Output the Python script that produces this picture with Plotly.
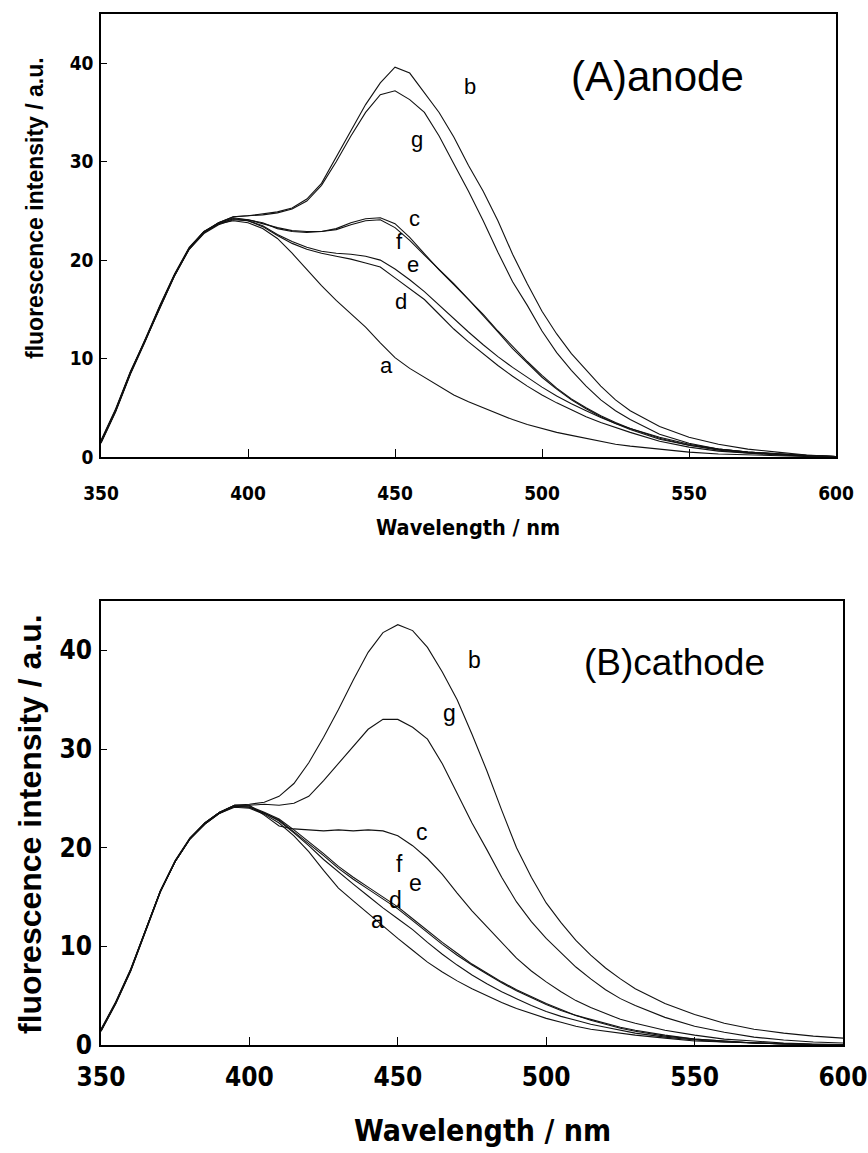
import plotly.graph_objects as go

W, H = 868, 1153

wavelength = [350, 355, 360, 365, 370, 375, 380, 385, 390, 395, 400,
              405, 410, 415, 420, 425, 430, 435, 440, 445, 450, 455, 460, 465, 470,
              475, 480, 485, 490, 495, 500, 505, 510, 515, 520, 525, 530,
              540, 550, 560, 570, 580, 590, 600]

# ---- Panel A (anode) ----
a_A = [1.5, 4.7, 8.5, 11.9, 15.4, 18.6, 21.3, 22.9, 23.7, 24.0, 23.8,
       23.2, 22.2, 20.7, 19.0, 17.4, 15.9, 14.5, 13.2, 11.6, 10.1, 9.0, 8.1, 7.2, 6.3,
       5.6, 5.0, 4.4, 3.8, 3.3, 2.9, 2.5, 2.2, 1.9, 1.6, 1.3, 1.1,
       0.8, 0.5, 0.3, 0.2, 0.1, 0.05, 0.0]
b_A = [1.6, 4.8, 8.6, 11.8, 15.3, 18.5, 21.2, 22.9, 23.8, 24.4, 24.5,
       24.7, 24.9, 25.3, 26.2, 27.8, 30.5, 33.2, 35.8, 38.0, 39.6, 39.0, 37.0, 35.0, 32.5,
       29.6, 27.0, 24.0, 20.6, 17.6, 14.8, 12.5, 10.5, 8.8, 7.2, 5.8, 4.7,
       3.1, 2.0, 1.3, 0.8, 0.5, 0.2, 0.05]
c_A = [1.6, 4.8, 8.6, 11.8, 15.3, 18.5, 21.2, 22.9, 23.8, 24.3, 24.1,
       23.7, 23.3, 23.0, 22.9, 22.9, 23.2, 23.8, 24.2, 24.3, 23.7, 22.3, 20.6, 19.0, 17.5,
       16.0, 14.5, 12.8, 11.2, 9.7, 8.3, 7.0, 5.9, 5.0, 4.2, 3.5, 2.9,
       1.9, 1.2, 0.8, 0.5, 0.3, 0.15, 0.05]
d_A = [1.4, 4.6, 8.4, 11.7, 15.2, 18.4, 21.2, 22.8, 23.7, 24.2, 24.0,
       23.4, 22.5, 21.7, 21.1, 20.7, 20.4, 20.1, 19.7, 19.3, 18.2, 17.1, 16.0, 14.5, 13.0,
       11.7, 10.5, 9.3, 8.2, 7.2, 6.3, 5.5, 4.8, 4.1, 3.5, 3.0, 2.5,
       1.6, 1.0, 0.6, 0.4, 0.2, 0.1, 0.05]
e_A = [1.7, 4.9, 8.7, 11.9, 15.3, 18.5, 21.1, 22.7, 23.6, 24.1, 24.0,
       23.5, 22.6, 21.9, 21.3, 20.9, 20.7, 20.6, 20.4, 20.0, 19.1, 18.0, 16.8, 15.4, 14.0,
       12.7, 11.4, 10.2, 9.1, 8.1, 7.1, 6.2, 5.4, 4.7, 4.0, 3.4, 2.9,
       2.0, 1.3, 0.8, 0.5, 0.3, 0.15, 0.05]
f_A = [1.5, 4.7, 8.5, 11.8, 15.2, 18.4, 21.2, 22.8, 23.7, 24.2, 24.1,
       23.8, 23.2, 22.9, 22.8, 22.9, 23.1, 23.6, 24.0, 24.1, 23.3, 22.0, 20.5, 19.1, 17.6,
       16.0, 14.4, 12.7, 11.0, 9.5, 8.1, 6.9, 5.8, 4.9, 4.1, 3.4, 2.8,
       1.8, 1.2, 0.7, 0.4, 0.25, 0.1, 0.05]
g_A = [1.5, 4.7, 8.5, 11.8, 15.2, 18.4, 21.1, 22.8, 23.8, 24.4, 24.5,
       24.6, 24.8, 25.2, 26.0, 27.6, 30.0, 32.6, 35.0, 36.8, 37.2, 36.3, 35.0, 32.6, 29.8,
       27.0, 24.0, 20.8, 17.8, 15.4, 12.8, 10.6, 8.8, 7.2, 5.8, 4.7, 3.8,
       2.3, 1.4, 0.8, 0.5, 0.3, 0.15, 0.05]

# ---- Panel B (cathode) ----
a_B = [1.4, 4.2, 7.5, 11.4, 15.5, 18.6, 20.9, 22.4, 23.5, 24.1, 24.0,
       23.4, 22.5, 21.2, 19.6, 17.7, 15.9, 14.6, 13.3, 12.0, 10.8, 9.6, 8.4, 7.4, 6.5,
       5.7, 5.0, 4.3, 3.7, 3.2, 2.7, 2.3, 1.9, 1.6, 1.4, 1.2, 1.0,
       0.7, 0.4, 0.3, 0.2, 0.1, 0.05, 0.0]
b_B = [1.5, 4.3, 7.6, 11.5, 15.6, 18.7, 21.0, 22.5, 23.6, 24.3, 24.4,
       24.6, 25.2, 26.5, 28.6, 31.2, 34.0, 37.0, 39.8, 41.8, 42.6, 42.0, 40.3, 37.8, 35.0,
       31.5, 27.8, 23.8, 20.0, 17.0, 14.4, 12.4, 10.6, 9.1, 7.8, 6.7, 5.7,
       4.2, 3.1, 2.2, 1.6, 1.2, 0.9, 0.7]
c_B = [1.5, 4.3, 7.6, 11.5, 15.6, 18.6, 20.9, 22.5, 23.6, 24.3, 24.3,
       23.3, 22.2, 21.9, 21.8, 21.7, 21.8, 21.7, 21.8, 21.7, 21.2, 20.2, 18.9, 17.3, 15.4,
       13.6, 12.0, 10.4, 8.8, 7.5, 6.4, 5.4, 4.5, 3.8, 3.2, 2.6, 2.2,
       1.5, 1.0, 0.6, 0.4, 0.2, 0.1, 0.05]
d_B = [1.5, 4.3, 7.6, 11.5, 15.6, 18.6, 20.9, 22.4, 23.5, 24.2, 24.1,
       23.5, 22.7, 21.5, 20.2, 18.8, 17.5, 16.3, 15.1, 13.9, 12.8, 11.7, 10.4, 9.2, 8.1,
       7.1, 6.2, 5.4, 4.7, 4.0, 3.4, 2.9, 2.5, 2.1, 1.8, 1.5, 1.2,
       0.8, 0.5, 0.3, 0.2, 0.1, 0.05, 0.0]
e_B = [1.6, 4.4, 7.7, 11.6, 15.6, 18.7, 21.0, 22.5, 23.6, 24.2, 24.1,
       23.5, 22.8, 21.6, 20.4, 19.2, 17.9, 16.8, 15.8, 14.8, 13.8, 12.6, 11.4, 10.2, 9.1,
       8.1, 7.2, 6.3, 5.5, 4.8, 4.1, 3.5, 3.0, 2.5, 2.1, 1.7, 1.4,
       0.9, 0.6, 0.4, 0.2, 0.1, 0.05, 0.0]
f_B = [1.5, 4.3, 7.6, 11.5, 15.6, 18.6, 20.9, 22.4, 23.5, 24.2, 24.2,
       23.6, 22.9, 21.8, 20.6, 19.4, 18.1, 17.0, 16.0, 15.0, 14.0, 12.8, 11.6, 10.4, 9.3,
       8.2, 7.3, 6.4, 5.6, 4.9, 4.2, 3.6, 3.0, 2.6, 2.2, 1.8, 1.5,
       1.0, 0.6, 0.4, 0.2, 0.1, 0.05, 0.0]
g_B = [1.4, 4.2, 7.5, 11.4, 15.5, 18.6, 20.9, 22.5, 23.6, 24.3, 24.3,
       24.4, 24.3, 24.5, 25.2, 26.8, 28.5, 30.3, 32.0, 33.0, 33.0, 32.2, 31.0, 28.5, 25.5,
       22.5, 19.8, 17.0, 14.5, 12.5, 10.8, 9.3, 7.9, 6.7, 5.6, 4.7, 4.0,
       2.8, 1.9, 1.3, 0.8, 0.5, 0.3, 0.2]

curve_names = ["a", "b", "c", "d", "e", "f", "g"]
panelA = [a_A, b_A, c_A, d_A, e_A, f_A, g_A]
panelB = [a_B, b_B, c_B, d_B, e_B, f_B, g_B]

# curve label positions (wavelength, intensity)
labelA_x = [447, 475.5, 456.5, 452, 456, 451.5, 457.5]
labelA_y = [9.3, 37.6, 24.2, 15.8, 19.6, 21.9, 32.3]
labelB_x = [443.3, 476, 458, 449.2, 456, 450.5, 467.5]
labelB_y = [12.7, 39.0, 21.6, 14.7, 16.4, 18.3, 33.6]

x_ticks = [350, 400, 450, 500, 550, 600]
y_ticks = [0, 10, 20, 30, 40]

fig = go.Figure()
for name, ys in zip(curve_names, panelA):
    fig.add_trace(go.Scatter(x=wavelength, y=ys, mode="lines", name=name,
                             line=dict(color="#111111", width=1.1),
                             xaxis="x", yaxis="y", showlegend=False))
for name, ys in zip(curve_names, panelB):
    fig.add_trace(go.Scatter(x=wavelength, y=ys, mode="lines", name=name,
                             line=dict(color="#111111", width=1.1),
                             xaxis="x2", yaxis="y2", showlegend=False))

COND = "Liberation Sans Narrow, DejaVu Sans Condensed, Arial Narrow, sans-serif"
ARIAL = "Liberation Sans, Arial, sans-serif"
tickfontA = dict(family=COND, size=19, color="black", weight="bold")
tickfontB = dict(family=COND, size=26, color="black", weight="bold")

def xaxis_cfg(domain, anchor, tf, standoff):
    return dict(domain=domain, anchor=anchor, range=[350, 600], tickvals=x_ticks,
                ticks="inside", ticklen=8, tickcolor="black", showline=True,
                linecolor="black", linewidth=1.5, mirror=True, showgrid=False,
                zeroline=False, tickfont=tf, automargin=False,
                ticklabelstandoff=standoff)

def yaxis_cfg(domain, anchor, tf, standoff):
    return dict(domain=domain, anchor=anchor, range=[0, 45], tickvals=y_ticks,
                ticks="inside", ticklen=6, tickcolor="black", showline=True,
                linecolor="black", linewidth=1.5, mirror=True, showgrid=False,
                zeroline=False, tickfont=tf, automargin=False,
                ticklabelstandoff=standoff)

xa_dom = [101 / W, 836 / W]
xb_dom = [101 / W, 843 / W]
ya_dom = [1 - 457 / H, 1 - 14 / H]
yb_dom = [1 - 1045 / H, 1 - 601 / H]

fig.update_layout(
    width=W, height=H,
    margin=dict(l=0, r=0, t=0, b=0),
    paper_bgcolor="white", plot_bgcolor="white",
    xaxis=xaxis_cfg(xa_dom, "y", tickfontA, 18),
    yaxis=yaxis_cfg(ya_dom, "x", tickfontA, 2),
    xaxis2=xaxis_cfg(xb_dom, "y2", tickfontB, 8),
    yaxis2=yaxis_cfg(yb_dom, "x2", tickfontB, 2),
)

ann = []
labfont = dict(family=ARIAL, size=22, color="black")
for n, lx, ly in zip(curve_names, labelA_x, labelA_y):
    ann.append(dict(x=lx, y=ly, xref="x", yref="y", text=n, showarrow=False,
                    xanchor="center", yanchor="middle", font=labfont))
labfontB = dict(family=ARIAL, size=23, color="black")
for n, lx, ly in zip(curve_names, labelB_x, labelB_y):
    ann.append(dict(x=lx, y=ly, xref="x2", yref="y2", text=n, showarrow=False,
                    xanchor="center", yanchor="middle", font=labfontB))

def paper_text(px, py, text, font, angle=0):
    return dict(x=px / W, y=1 - py / H, xref="paper", yref="paper", text=text,
                showarrow=False, xanchor="center", yanchor="middle",
                textangle=angle, font=font)

ann.append(paper_text(657, 77, "(A)anode", dict(family=ARIAL, size=42, color="black")))
ann.append(paper_text(674, 662, "(B)cathode", dict(family=ARIAL, size=37, color="black")))

ann.append(paper_text(468, 527, "Wavelength / nm",
                      dict(family=COND, size=21.5, color="black", weight="bold")))
ann.append(paper_text(482, 1130, "Wavelength / nm",
                      dict(family=COND, size=30, color="black", weight="bold")))
ann.append(paper_text(35, 208, "fluorescence intensity / a.u.",
                      dict(family=ARIAL, size=23, color="black", weight="bold"), -90))
ann.append(paper_text(30, 824, "fluorescence intensity / a.u.",
                      dict(family=ARIAL, size=32, color="black", weight="bold"), -90))

fig.update_layout(annotations=ann)
fig.write_html("out.html")
